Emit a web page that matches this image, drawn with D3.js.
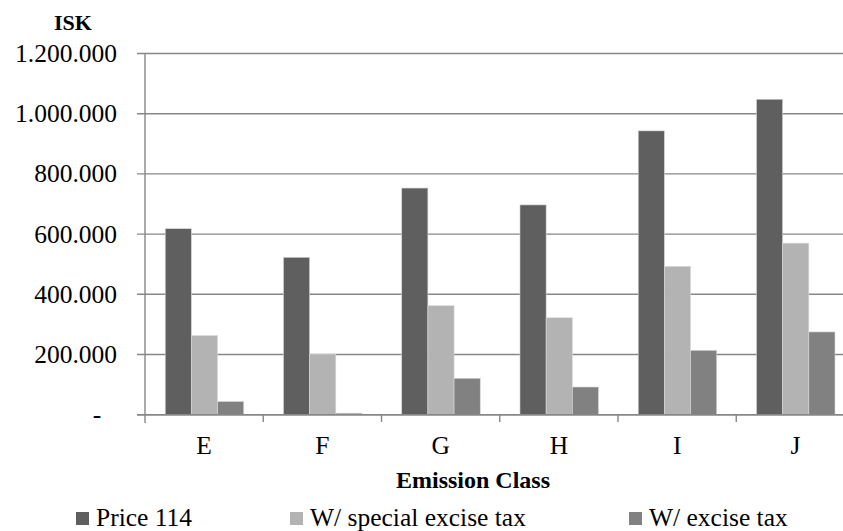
<!DOCTYPE html>
<html>
<head>
<meta charset="utf-8">
<script src="https://cdn.jsdelivr.net/npm/d3@7"></script>
<style>
  html, body { margin: 0; padding: 0; background: #fff; }
  svg { display: block; }
  text { font-family: 'Liberation Serif', 'Times New Roman', Times, 'DejaVu Serif', serif; }
</style>
</head>
<body>
<div id="chart"></div>
<script>
const categories = ['E', 'F', 'G', 'H', 'I', 'J'];
const seriesNames = ['Price 114', 'W/ special excise tax', 'W/ excise tax'];
const price114 = [618000, 523000, 753000, 697000, 943000, 1048000];
const specialExcise = [263000, 201000, 362000, 322000, 493000, 570000];
const exciseTax = [44000, 5000, 121000, 92000, 214000, 275000];
const yTicks = [0, 200000, 400000, 600000, 800000, 1000000, 1200000];
const colors = ['#5f5f5f', '#b3b3b3', '#818181'];

const chartWidth = 843;
const chartHeight = 531;
const gridColor = '#878787';
const serif = "'Liberation Serif', 'Times New Roman', Times, 'DejaVu Serif', serif";

const svg = d3.select('#chart')
  .append('svg')
  .attr('width', chartWidth)
  .attr('height', chartHeight)
  .attr('font-family', serif);

const xScale = d3.scaleBand()
  .domain(categories)
  .range([145, 854.5])
  .padding(0);

const xInner = d3.scaleBand()
  .domain(seriesNames)
  .range([xScale.bandwidth() * 0.171, xScale.bandwidth() * 0.835])
  .padding(0);

const yScale = d3.scaleLinear()
  .domain([0, 1200000])
  .range([414.7, 53.5]);

const fmt = (v) => v === 0 ? '-' : d3.format(',')(v).replace(/,/g, '.');

// gridlines
svg.append('g')
  .selectAll('line')
  .data(yTicks)
  .enter()
  .append('line')
  .attr('x1', 137)
  .attr('x2', chartWidth)
  .attr('y1', (d) => yScale(d))
  .attr('y2', (d) => yScale(d))
  .attr('stroke', gridColor)
  .attr('stroke-width', 1.4);

// y axis line
svg.append('line')
  .attr('x1', 145).attr('x2', 145)
  .attr('y1', yScale(1200000)).attr('y2', 423)
  .attr('stroke', gridColor)
  .attr('stroke-width', 1.4);

// category ticks
svg.append('g')
  .selectAll('line')
  .data(categories.slice(1))
  .enter()
  .append('line')
  .attr('x1', (d) => xScale(d))
  .attr('x2', (d) => xScale(d))
  .attr('y1', yScale(0))
  .attr('y2', 422)
  .attr('stroke', gridColor)
  .attr('stroke-width', 1.4);

// y tick labels
svg.append('g')
  .selectAll('text')
  .data(yTicks)
  .enter()
  .append('text')
  .attr('x', (d) => d === 0 ? 97 : 117)
  .attr('y', (d) => yScale(d))
  .attr('dy', '0.33em')
  .attr('text-anchor', (d) => d === 0 ? 'middle' : 'end')
  .attr('font-size', 25.5)
  .attr('fill', '#000')
  .text(fmt);

// bars
const data = categories.map((c, i) => ({
  cat: c,
  vals: [price114[i], specialExcise[i], exciseTax[i]]
}));

const groups = svg.append('g')
  .selectAll('g')
  .data(data)
  .enter()
  .append('g')
  .attr('transform', (d) => `translate(${xScale(d.cat)},0)`);

groups.selectAll('rect')
  .data((d) => d.vals.map((v, j) => ({ name: seriesNames[j], v: v, j: j })))
  .enter()
  .append('rect')
  .attr('x', (d) => xInner(d.name))
  .attr('y', (d) => yScale(d.v))
  .attr('width', xInner.bandwidth())
  .attr('height', (d) => yScale(0) - yScale(d.v))
  .attr('fill', (d) => colors[d.j])
  .attr('stroke', '#d9d9d9')
  .attr('stroke-width', 0.6);

// redraw baseline over bars
svg.append('line')
  .attr('x1', 137).attr('x2', chartWidth)
  .attr('y1', yScale(0)).attr('y2', yScale(0))
  .attr('stroke', gridColor)
  .attr('stroke-width', 1.4);

// category labels
svg.append('g')
  .selectAll('text')
  .data(categories)
  .enter()
  .append('text')
  .attr('x', (d) => xScale(d) + xScale.bandwidth() / 2)
  .attr('y', 454)
  .attr('text-anchor', 'middle')
  .attr('font-size', 25.5)
  .attr('fill', '#000')
  .text((d) => d);

// axis titles
svg.append('text')
  .attr('x', 473)
  .attr('y', 488)
  .attr('text-anchor', 'middle')
  .attr('font-size', 24)
  .attr('font-weight', 'bold')
  .text('Emission Class');

svg.append('text')
  .attr('x', 73)
  .attr('y', 30)
  .attr('text-anchor', 'middle')
  .attr('font-size', 22)
  .attr('font-weight', 'bold')
  .text('ISK');

// legend
const legendX = [76, 290, 629];
const legend = svg.append('g')
  .selectAll('g')
  .data(seriesNames)
  .enter()
  .append('g')
  .attr('transform', (d, i) => `translate(${legendX[i]},512)`);

legend.append('rect')
  .attr('width', 13)
  .attr('height', 13)
  .attr('fill', (d, i) => colors[i]);

legend.append('text')
  .attr('x', 20)
  .attr('y', 14)
  .attr('font-size', 25.5)
  .attr('fill', '#000')
  .text((d) => d);
</script>
</body>
</html>
